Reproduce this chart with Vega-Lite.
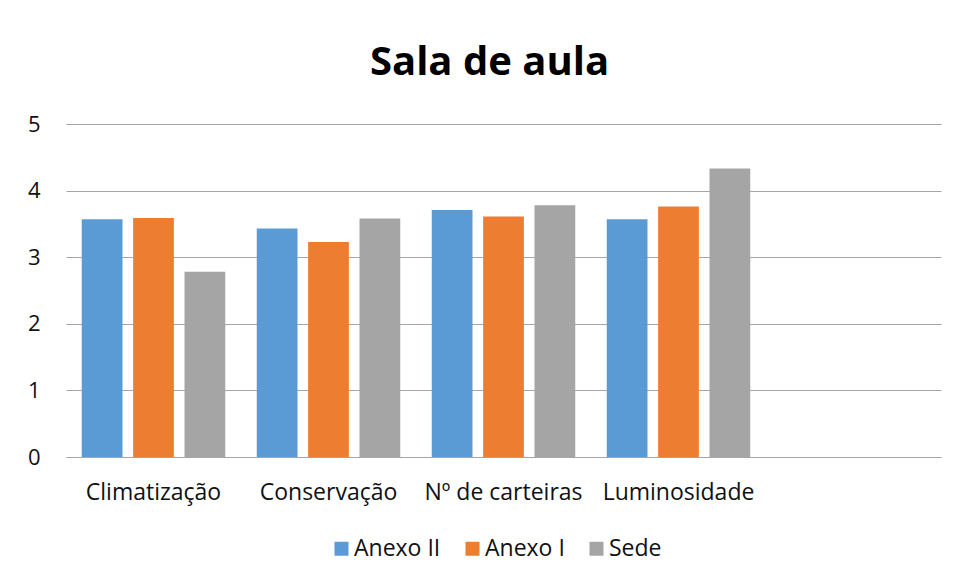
{
  "$schema": "https://vega.github.io/schema/vega-lite/v6.json",
  "width": 875,
  "height": 333,
  "autosize": {"type": "none"},
  "padding": {"left": 66, "top": 124, "right": 14, "bottom": 121},
  "background": "white",
  "title": {
    "text": "Sala de aula",
    "font": "Open Sans",
    "fontSize": 40,
    "fontWeight": "bold",
    "color": "#000000",
    "anchor": "middle",
    "dx": -14,
    "baseline": "alphabetic",
    "offset": -2
  },
  "data": {
    "values": [
      {"item": "Climatização", "local": "Anexo II", "valor": 3.57},
      {"item": "Climatização", "local": "Anexo I", "valor": 3.59},
      {"item": "Climatização", "local": "Sede", "valor": 2.78},
      {"item": "Conservação", "local": "Anexo II", "valor": 3.43},
      {"item": "Conservação", "local": "Anexo I", "valor": 3.23},
      {"item": "Conservação", "local": "Sede", "valor": 3.58},
      {"item": "Nº de carteiras", "local": "Anexo II", "valor": 3.71},
      {"item": "Nº de carteiras", "local": "Anexo I", "valor": 3.61},
      {"item": "Nº de carteiras", "local": "Sede", "valor": 3.78},
      {"item": "Luminosidade", "local": "Anexo II", "valor": 3.57},
      {"item": "Luminosidade", "local": "Anexo I", "valor": 3.76},
      {"item": "Luminosidade", "local": "Sede", "valor": 4.33}
    ]
  },
  "mark": {"type": "bar"},
  "encoding": {
    "x": {
      "field": "item",
      "type": "nominal",
      "sort": null,
      "scale": {
        "domain": ["Climatização", "Conservação", "Nº de carteiras", "Luminosidade", " "],
        "paddingInner": 0.18,
        "paddingOuter": 0.09
      },
      "axis": {
        "title": null,
        "labelAngle": 0,
        "ticks": false,
        "domain": true,
        "domainColor": "#a6a6a6",
        "domainWidth": 1,
        "grid": false,
        "labelFont": "Open Sans",
        "labelFontSize": 23,
        "labelColor": "#111111",
        "labelBaseline": "alphabetic",
        "labelPadding": 42
      }
    },
    "xOffset": {
      "field": "local",
      "type": "nominal",
      "sort": ["Anexo II", "Anexo I", "Sede"],
      "scale": {"paddingInner": 0.207, "paddingOuter": 0}
    },
    "y": {
      "field": "valor",
      "type": "quantitative",
      "scale": {"domain": [0, 5], "nice": false},
      "axis": {
        "title": null,
        "values": [0, 1, 2, 3, 4, 5],
        "ticks": false,
        "domain": false,
        "grid": true,
        "gridColor": "#a6a6a6",
        "gridWidth": 1,
        "labelFont": "Open Sans",
        "labelFontSize": 22,
        "labelColor": "#111111",
        "labelPadding": 26
      }
    },
    "color": {
      "field": "local",
      "type": "nominal",
      "sort": ["Anexo II", "Anexo I", "Sede"],
      "scale": {
        "domain": ["Anexo II", "Anexo I", "Sede"],
        "range": ["#5b9bd5", "#ed7d31", "#a5a5a5"]
      },
      "legend": {
        "title": null,
        "orient": "none",
        "direction": "horizontal",
        "legendX": 264,
        "legendY": 413,
        "symbolType": "square",
        "symbolSize": 196,
        "symbolStrokeWidth": 0,
        "labelFont": "Open Sans",
        "labelFontSize": 23,
        "labelColor": "#111111",
        "labelOffset": 1,
        "columnPadding": 20,
        "padding": 0
      }
    }
  },
  "config": {
    "view": {"stroke": null},
    "axis": {"gridOpacity": 1}
  }
}
